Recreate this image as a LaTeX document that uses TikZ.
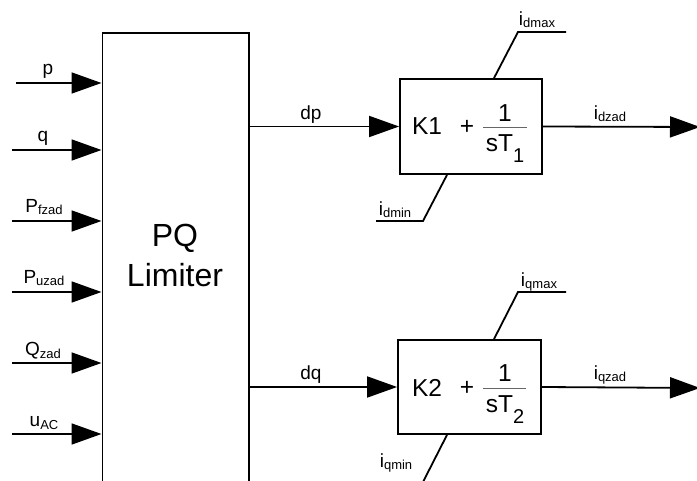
\documentclass[tikz,border=0pt]{standalone}
\usepackage{fontspec}
\setmainfont{Liberation Sans}
\usetikzlibrary{arrows.meta}
\newcommand{\lsub}[1]{\raisebox{-2pt}{\fontsize{13}{13}\selectfont #1}}
\begin{document}
\begin{tikzpicture}[x=1pt,y=-1pt,
  wire/.style={line width=1.8pt},
  sig/.style={line width=1.8pt,-{Triangle[length=30pt,width=21pt]}},
  blk/.style={draw,line width=1.8pt,inner sep=0pt},
  lbl/.style={anchor=base,inner sep=0pt,font=\fontsize{19}{19}\selectfont},
  big/.style={inner sep=0pt,font=\fontsize{24.5}{24.5}\selectfont},
  frac/.style={line width=0.9pt,draw=black!60}]
\clip (0,0) rectangle (697,481);
\fill[white] (0,0) rectangle (697,481);
% PQ limiter block (cut off at the bottom)
\node[blk,minimum width=146.5pt,minimum height=520pt,anchor=north west] (pq) at (101.5,32) {};
\node[inner sep=0pt,align=center,font=\fontsize{32}{40}\selectfont] (pqt) at (175,255) {PQ\\Limiter};
% inputs
\coordinate (ip) at (16,83);
\coordinate (iq) at (12,150);
\coordinate (ipf) at (12,221);
\coordinate (ipu) at (12,292);
\coordinate (iqz) at (12,363);
\coordinate (iu) at (12,434);
\draw[sig] (ip) -- (ip -| pq.west);
\draw[sig] (iq) -- (iq -| pq.west);
\draw[sig] (ipf) -- (ipf -| pq.west);
\draw[sig] (ipu) -- (ipu -| pq.west);
\draw[sig] (iqz) -- (iqz -| pq.west);
\draw[sig] (iu) -- (iu -| pq.west);
\node[lbl] (lp) at (48,75) {p};
\node[lbl] (lq) at (43,142) {q};
\node[lbl] (lpf) at (44,213) {P\lsub{fzad}};
\node[lbl] (lpu) at (44,284) {P\lsub{uzad}};
\node[lbl] (lqz) at (43,356) {Q\lsub{zad}};
\node[lbl] (lu) at (44,427) {u\lsub{AC}};
% PI blocks
\node[blk,minimum width=142pt,minimum height=95pt] (k1) at (471,126.5) {};
\node[blk,minimum width=143pt,minimum height=94pt] (k2) at (469.5,387) {};
% K1 content
\node[big,anchor=base] (k1a) at (427,135) {K1};
\node[big] (k1p) at (467,127) {+};
\coordinate (f1a) at (483,127);
\coordinate (f1b) at (527,127);
\draw[frac] (f1a) -- (f1b);
\node[big,anchor=base] (k1n) at (505,122) {1};
\node[big,anchor=base] (k1d) at (505,152) {sT\raisebox{-0.42em}{\fontsize{20}{20}\selectfont 1}};
% K2 content
\node[big,anchor=base] (k2a) at (427,396) {K2};
\node[big] (k2p) at (467,388) {+};
\coordinate (f2a) at (483,388);
\coordinate (f2b) at (526,388);
\draw[frac] (f2a) -- (f2b);
\node[big,anchor=base] (k2n) at (505,382) {1};
\node[big,anchor=base] (k2d) at (505,413) {sT\raisebox{-0.42em}{\fontsize{20}{20}\selectfont 2}};
% connections
\coordinate (o1) at (700,127);
\coordinate (o2) at (700,388);
\draw[sig] (pq.east |- k1.west) -- (k1.west);
\draw[sig] (pq.east |- k2.west) -- (k2.west);
\draw[sig] (k1.east) -- (o1);
\draw[sig] (k2.east) -- (o2);
\node[lbl] (ldp) at (311,120) {dp};
\node[lbl] (ldq) at (311,380) {dq};
\node[lbl] (lidz) at (610,120) {i\lsub{dzad}};
\node[lbl] (liqz) at (610,380) {i\lsub{qzad}};
% limits
\coordinate (dmaxa) at (494,79);
\coordinate (dmaxb) at (518,32);
\coordinate (dmaxc) at (566,32);
\draw[wire] (k1.north -| dmaxa) -- (dmaxb) -- (dmaxc);
\coordinate (dmina) at (447,174);
\coordinate (dminb) at (423,221);
\coordinate (dminc) at (376,221);
\draw[wire] (k1.south -| dmina) -- (dminb) -- (dminc);
\coordinate (qmaxa) at (494,340);
\coordinate (qmaxb) at (518,292);
\coordinate (qmaxc) at (566,292);
\draw[wire] (k2.north -| qmaxa) -- (qmaxb) -- (qmaxc);
\coordinate (qmina) at (447,434);
\coordinate (qminb) at (423,482);
\coordinate (qminc) at (376,482);
\draw[wire] (k2.south -| qmina) -- (qminb) -- (qminc);
\node[lbl] (ldmax) at (537,26) {i\lsub{dmax}};
\node[lbl] (ldmin) at (395,216) {i\lsub{dmin}};
\node[lbl] (lqmax) at (539,287) {i\lsub{qmax}};
\node[lbl] (lqmin) at (396,467) {i\lsub{qmin}};
\end{tikzpicture}
\end{document}
